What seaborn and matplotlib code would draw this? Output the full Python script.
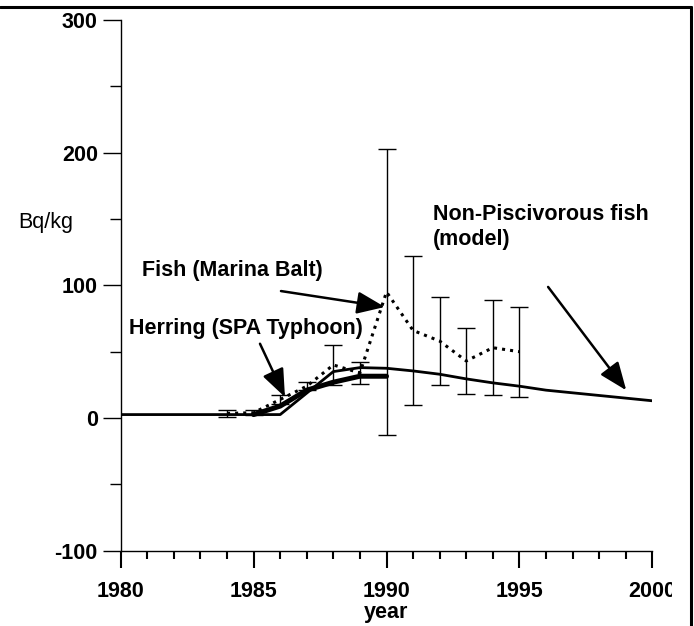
import matplotlib
matplotlib.use('Agg')
import matplotlib.pyplot as plt
import seaborn as sns
from matplotlib.ticker import MultipleLocator
from matplotlib.lines import Line2D
from matplotlib.transforms import Bbox, TransformedBbox

# non-piscivorous fish, model curve
model_years = [1980, 1983, 1986, 1988, 1989, 1990, 1991, 1992, 1993, 1994,
               1995, 1996, 1997, 1998, 1999, 2000]
model_vals = [2.6, 2.6, 2.6, 35, 38, 37.5, 35.5, 33, 29.5, 26.5,
              24, 21, 19, 17, 15, 13]

# herring (SPA Typhoon)
herring_years = [1985, 1986, 1987, 1988, 1989, 1990]
herring_vals = [2.6, 9, 21, 27, 31.5, 31.5]

# fish (Marina Balt), measured with error bars
fish_years = [1984, 1985, 1986, 1987, 1988, 1989, 1990, 1991, 1992, 1993, 1994, 1995]
fish_vals = [3.5, 4, 14, 24, 40, 34, 95, 66, 58, 43, 53, 50]
fish_err = [2.5, 2, 3.5, 3, 15, 8.5, 108, 56, 33, 25, 36, 34]

x_ticks = [1980, 1985, 1990, 1995, 2000]
y_ticks = [-100, 0, 100, 200, 300]

sns.set_theme(style="ticks")
plt.rcParams['font.family'] = ['Liberation Sans', 'DejaVu Sans']
plt.rcParams['axes.unicode_minus'] = False
plt.rcParams['text.color'] = 'black'
plt.rcParams['axes.labelcolor'] = 'black'

W, H = 694, 626
fig = plt.figure(figsize=(W / 100, H / 100), dpi=100)
ax = fig.add_axes([120.7 / W, 1 - 550.7 / H, (652.3 - 120.7) / W, (550.7 - 20) / H])

# lines
sns.lineplot(x=model_years, y=model_vals, ax=ax, color='black', lw=2.0, sort=False)
sns.lineplot(x=herring_years, y=herring_vals, ax=ax, color='black', lw=3.6, sort=False)
sns.lineplot(x=fish_years, y=fish_vals, ax=ax, color='black', lw=2.2,
             linestyle=':', sort=False)
ax.errorbar(fish_years, fish_vals, yerr=fish_err, fmt='none', ecolor='black',
            elinewidth=1.0, capsize=6.5, capthick=1.0)

ax.set_xlim(1980, 2000)
ax.set_ylim(-100, 300)
ax.set_xticks(x_ticks)
ax.set_yticks(y_ticks)
ax.xaxis.set_minor_locator(MultipleLocator(1))
ax.yaxis.set_minor_locator(MultipleLocator(50))

for s in ['top', 'right']:
    ax.spines[s].set_visible(False)
for s in ['left', 'bottom']:
    ax.spines[s].set_color('black')
    ax.spines[s].set_linewidth(1.0)

ax.tick_params(axis='x', which='major', direction='out', length=12, width=1.5,
               pad=10, labelsize=15.5, colors='black', bottom=True)
ax.tick_params(axis='x', which='minor', direction='out', length=5.5, width=1.5,
               colors='black', bottom=True)
ax.tick_params(axis='y', which='major', direction='out', length=13, width=1.0,
               pad=3.5, labelsize=15.5, colors='black', left=True)
ax.tick_params(axis='y', which='minor', direction='out', length=8, width=1.0,
               colors='black', left=True)
for lab in ax.get_xticklabels() + ax.get_yticklabels():
    lab.set_fontweight('bold')

ax.set_xlabel('year', fontsize=15.5, fontweight='bold', labelpad=0, color='black')
ax.set_ylabel('')
fig.text(18 / W, 1 - 222 / H, 'Bq/kg', fontsize=15.5, ha='left', va='center',
         color='black')

# labels and arrows
txt = dict(fontsize=15.5, fontweight='bold', color='black')
ax.text(1980.8, 111, 'Fish (Marina Balt)', va='center', **txt)
ax.text(1980.3, 67.4, 'Herring (SPA Typhoon)', va='center', **txt)
ax.text(1991.75, 144, 'Non-Piscivorous fish\n(model)', va='center',
        linespacing=1.25, **txt)

arrow = dict(arrowstyle='-|>,head_length=0.45,head_width=0.18', color='black',
             lw=1.8, mutation_scale=38, shrinkA=0, shrinkB=0)
ax.annotate('', xy=(1989.94, 83.7), xytext=(1986.03, 95.7), arrowprops=arrow)
ax.annotate('', xy=(1986.18, 15.8), xytext=(1985.24, 56), arrowprops=arrow)
ax.annotate('', xy=(1999.02, 20.9), xytext=(1996.08, 98.8), arrowprops=arrow)

# frame lines at top and right
fig.add_artist(Line2D([0, 690.7 / W], [1 - 7 / H] * 2, transform=fig.transFigure,
                      color='black', lw=2.2))
fig.add_artist(Line2D([690.7 / W] * 2, [0, 1 - 7 / H], transform=fig.transFigure,
                      color='black', lw=2.2))

# the last year label is cut in the source picture
fig.canvas.draw()
last = ax.get_xticklabels()[-1]
last.set_clip_box(TransformedBbox(Bbox([[0, 0], [672 / W, 1]]), fig.transFigure))
last.set_clip_on(True)

fig.savefig('out.png', dpi=100)
